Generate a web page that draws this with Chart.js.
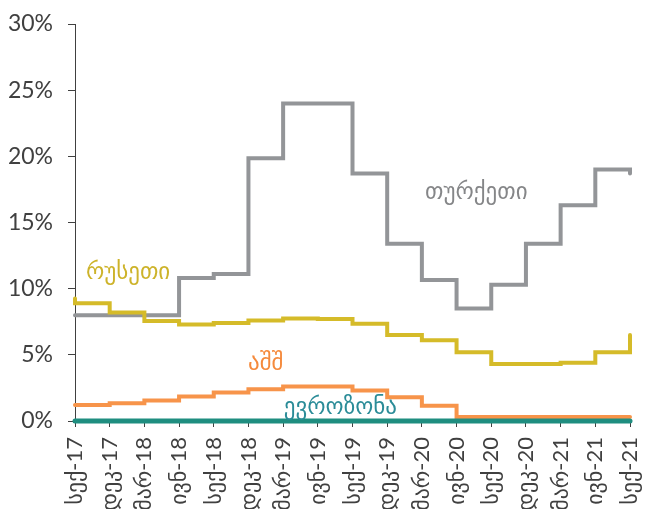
<!DOCTYPE html>
<html>
<head>
<meta charset="utf-8">
<script src="https://cdn.jsdelivr.net/npm/chart.js@4/dist/chart.umd.min.js"></script>
<style>
  html, body { margin: 0; padding: 0; background: #ffffff; }
  #wrap { width: 646px; height: 509px; position: relative; }
</style>
</head>
<body>
<div id="wrap"><canvas id="c"></canvas></div>
<script>
// Quarter-end dates on the horizontal axis
const quarterLabels = ['სექ-17', 'დეკ-17', 'მარ-18', 'ივნ-18', 'სექ-18', 'დეკ-18', 'მარ-19', 'ივნ-19',
  'სექ-19', 'დეკ-19', 'მარ-20', 'ივნ-20', 'სექ-20', 'დეკ-20', 'მარ-21', 'ივნ-21', 'სექ-21'];

// Policy rates, %: opening value, one level per quarter (16), closing value
const turkey   = [8.0, 8.0, 8.0, 8.0, 10.8, 11.1, 19.85, 24.0, 24.0, 18.7, 13.4, 10.65, 8.5, 10.3, 13.4, 16.3, 19.0, 18.7];
const russia   = [9.25, 8.9, 8.2, 7.55, 7.3, 7.4, 7.6, 7.75, 7.7, 7.35, 6.5, 6.1, 5.2, 4.3, 4.3, 4.4, 5.2, 6.5];
const usa      = [1.2, 1.2, 1.35, 1.55, 1.85, 2.15, 2.4, 2.6, 2.6, 2.3, 1.8, 1.15, 0.3, 0.3, 0.3, 0.3, 0.3, 0.3];
const eurozone = [0, 0, 0, 0, 0, 0, 0, 0, 0, 0, 0, 0, 0, 0, 0, 0, 0, 0];

const seriesNames = ['თურქეთი', 'რუსეთი', 'აშშ', 'ევროზონა'];

// Vertical axis range and step, %
const yMin = 0, yMax = 30, yStep = 5;

// x index for each value: period start, each quarter end, then the last date again
const xs = quarterLabels.map((_, i) => i).concat(quarterLabels.length - 1);
const toPoints = vals => vals.map((y, k) => ({ x: xs[k], y }));

const colors = {
  turkey: '#939598',
  russia: '#D5BB29',
  usa: '#F7944A',
  eurozone: '#1F8E80'
};
const textColors = ['#858688', '#CDB32A', '#F58A3C', '#2B8C98'];

// Series name placement, in axis units (x index, y value)
const nameSpots = [
  { x: 11.57, y: 17.2 },
  { x: 1.53, y: 11.2 },
  { x: 5.5, y: 4.3 },
  { x: 7.65, y: 0.98 }
];

const FONT = "Lato, 'DejaVu Sans', sans-serif";

const seriesNamePlugin = {
  id: 'seriesNames',
  afterDatasetsDraw(chart) {
    const { ctx, scales } = chart;
    ctx.save();
    ctx.font = "23px 'DejaVu Sans', sans-serif";
    ctx.textAlign = 'center';
    ctx.textBaseline = 'middle';
    seriesNames.forEach((name, i) => {
      ctx.fillStyle = textColors[i];
      ctx.fillText(name, scales.x.getPixelForValue(nameSpots[i].x), scales.y.getPixelForValue(nameSpots[i].y));
    });
    ctx.restore();
  }
};

const line = (label, vals, color, width) => ({
  label,
  data: toPoints(vals),
  borderColor: color,
  backgroundColor: color,
  borderWidth: width,
  stepped: 'after',
  pointRadius: 0,
  pointHoverRadius: 0,
  fill: false,
  clip: false,
  borderCapStyle: 'round',
  borderJoinStyle: 'miter'
});

new Chart(document.getElementById('c'), {
  type: 'line',
  data: {
    datasets: [
      line(seriesNames[3], eurozone, colors.eurozone, 5),
      line(seriesNames[2], usa, colors.usa, 4),
      line(seriesNames[1], russia, colors.russia, 4),
      line(seriesNames[0], turkey, colors.turkey, 4)
    ]
  },
  options: {
    responsive: true,
    maintainAspectRatio: false,
    animation: false,
    events: [],
    layout: { padding: { top: 24, right: 16, left: 0, bottom: 0 } },
    plugins: { legend: { display: false }, tooltip: { enabled: false } },
    scales: {
      x: {
        type: 'linear',
        min: 0,
        max: quarterLabels.length - 1,
        offset: false,
        afterFit(scale) {
          scale.height = 88;
          scale.paddingLeft = 0;
          scale.paddingRight = 0;
        },
        grid: { display: true, drawOnChartArea: false, drawTicks: true, tickLength: 6, color: '#404040' },
        border: { display: true, color: '#404040', width: 1 },
        ticks: {
          stepSize: 1,
          autoSkip: false,
          maxRotation: 90,
          minRotation: 90,
          padding: 10,
          color: '#404040',
          font: { family: FONT, size: 22 },
          callback: v => quarterLabels[v]
        }
      },
      y: {
        min: yMin,
        max: yMax,
        afterFit(scale) {
          scale.width = 75;
          scale.paddingTop = 0;
          scale.paddingBottom = 0;
        },
        grid: { display: true, drawOnChartArea: false, drawTicks: true, tickLength: 7, color: '#404040' },
        border: { display: true, color: '#404040', width: 1 },
        ticks: {
          stepSize: yStep,
          padding: 15,
          color: '#404040',
          font: { family: FONT, size: 23 },
          callback: v => v + '%'
        }
      }
    }
  },
  plugins: [seriesNamePlugin]
});
</script>
</body>
</html>
